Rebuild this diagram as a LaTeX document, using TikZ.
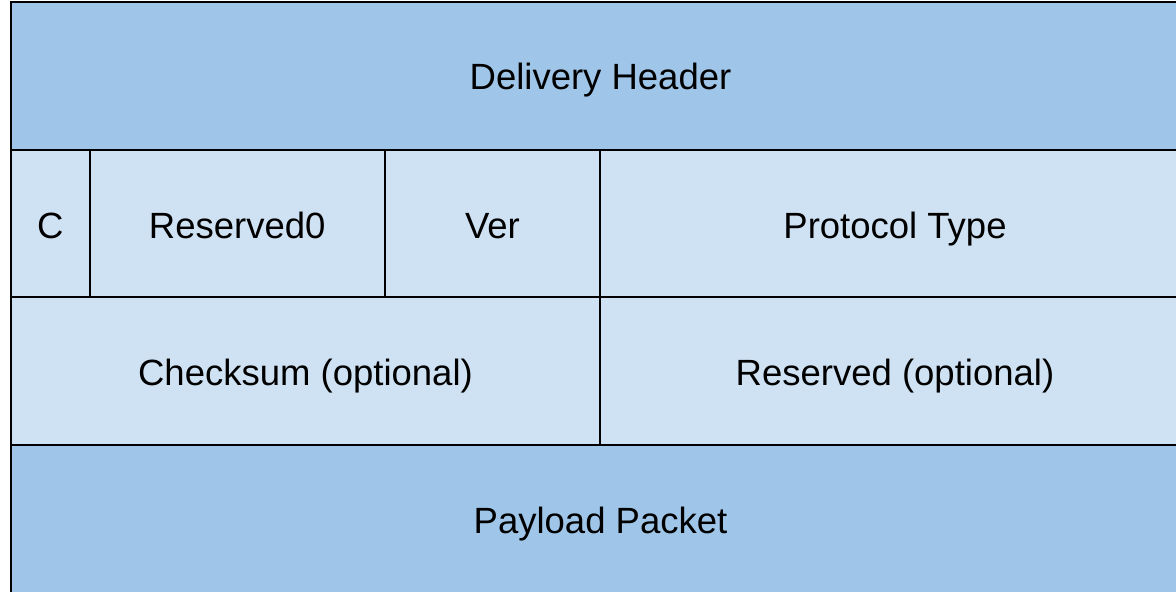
\documentclass[tikz,border=0pt]{standalone}
\usepackage{fontspec}
\setmainfont{Liberation Sans}
\definecolor{darkblue}{HTML}{9FC5E8}
\definecolor{lightblue}{HTML}{CFE2F3}
\tikzset{
  cell/.style={draw=black, line width=2pt, inner sep=0pt, anchor=center,
    font=\fontsize{36.5}{40}\selectfont, text=black, text depth=10pt},
  dark/.style={cell, fill=darkblue},
  light/.style={cell, fill=lightblue}
}
\begin{document}
\begin{tikzpicture}[x=1pt,y=-1pt]
\useasboundingbox (0,0) rectangle (1176,592);
\fill[white] (0,0) rectangle (1176,592);
\clip (0,0) rectangle (1176,592);
% row 1
\node[dark, text height=36.6pt, minimum width=1179pt, minimum height=148pt] (hdr) at (600.5,76) {Delivery Header};
% row 2
\node[light, text height=39.6pt, minimum width=78.5pt, minimum height=147pt] (c) at (50.25,223.5) {C};
\node[light, text height=39.6pt, minimum width=295.5pt, minimum height=147pt] (r0) at (237.25,223.5) {Reserved0};
\node[light, text height=39.6pt, minimum width=215pt, minimum height=147pt] (ver) at (492.5,223.5) {Ver};
\node[light, text height=39.6pt, minimum width=590pt, minimum height=147pt] (pt) at (895,223.5) {Protocol Type};
% row 3
\node[light, text height=38pt, minimum width=589pt, minimum height=148pt] (cs) at (305.5,371) {Checksum (optional)};
\node[light, text height=38pt, minimum width=590pt, minimum height=148pt] (rs) at (895,371) {Reserved (optional)};
% row 4
\node[dark, text height=31.6pt, minimum width=1179pt, minimum height=155pt] (pl) at (600.5,522.5) {Payload Packet};
\end{tikzpicture}
\end{document}
